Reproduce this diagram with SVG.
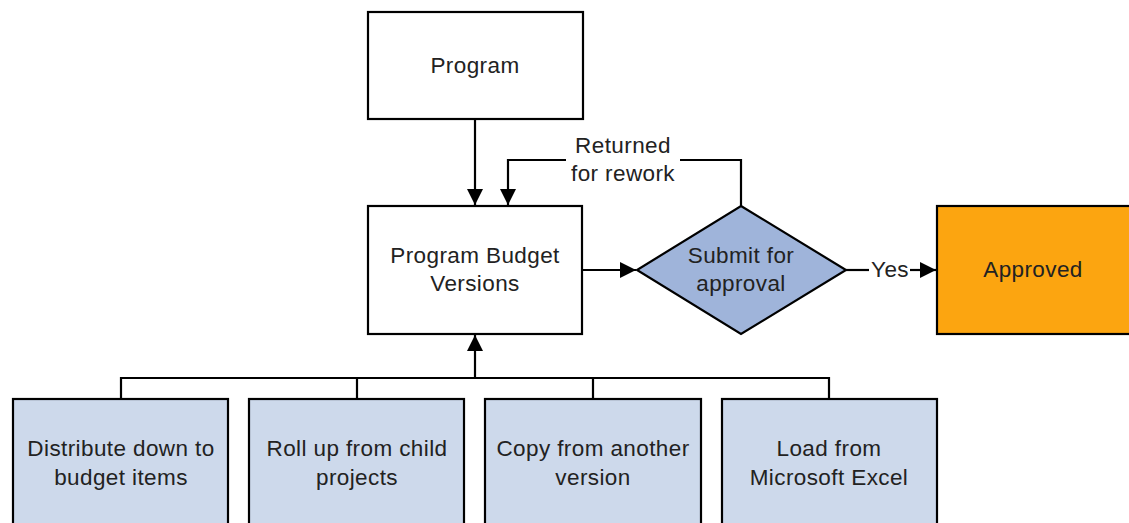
<svg xmlns="http://www.w3.org/2000/svg" width="1129" height="523" viewBox="0 0 1129 523">
<defs>
<style>
.box{stroke:#000;stroke-width:2.2}
.w{fill:#fff}
.b{fill:#cdd9eb}
.t{font-family:"Liberation Sans",Arial,sans-serif;font-size:22.5px;letter-spacing:0.4px;fill:#222;text-anchor:middle}
.c{fill:none;stroke:#000;stroke-width:2.2}
</style>
<marker id="ah2" viewBox="0 0 10 10" refX="10" refY="5" markerWidth="18" markerHeight="16" markerUnits="userSpaceOnUse" orient="auto">
<path d="M0,0 L10,5 L0,10 z" fill="#000"/>
</marker>
</defs>
<rect width="1129" height="523" fill="#fff"/>
<g id="connectors">
<path class="c" d="M475,119 V205" marker-end="url(#ah2)"/>
<path class="c" d="M741,206 V160 H680 M566,160 H508 V205" marker-end="url(#ah2)"/>
<path class="c" d="M582,270 H636" marker-end="url(#ah2)"/>
<path class="c" d="M846,270 H869"/>
<path class="c" d="M910,270 H936" marker-end="url(#ah2)"/>
<path class="c" d="M121,399 V378 H829 V399 M357,378 V399 M593,378 V399"/>
<path class="c" d="M475,378 V335" stroke-width="3.2" marker-end="url(#ah2)"/>
<text class="t" x="623" y="153">Returned</text>
<text class="t" x="623" y="181">for rework</text>
<text class="t" x="890" y="277">Yes</text>
</g>
<g id="program">
<rect class="box w" x="368" y="12" width="215" height="107"/>
<text class="t" x="475" y="73">Program</text>
</g>
<g id="versions">
<rect class="box w" x="368" y="206" width="214" height="128"/>
<text class="t" x="475" y="263">Program Budget</text>
<text class="t" x="475" y="291">Versions</text>
</g>
<g id="submit">
<path class="box" d="M741,206 L846,270 L741,334 L637,270 Z" fill="#9fb4da"/>
<text class="t" x="741" y="263">Submit for</text>
<text class="t" x="741" y="291">approval</text>
</g>
<g id="approved">
<rect class="box" x="937" y="206" width="200" height="128" fill="#fca510"/>
<text class="t" x="1033" y="277">Approved</text>
</g>
<g id="distribute">
<rect class="box b" x="13" y="399" width="215" height="140"/>
<text class="t" x="121" y="456">Distribute down to</text>
<text class="t" x="121" y="485">budget items</text>
</g>
<g id="rollup">
<rect class="box b" x="249" y="399" width="215" height="140"/>
<text class="t" x="357" y="456">Roll up from child</text>
<text class="t" x="357" y="485">projects</text>
</g>
<g id="copy">
<rect class="box b" x="485" y="399" width="216" height="140"/>
<text class="t" x="593" y="456">Copy from another</text>
<text class="t" x="593" y="485">version</text>
</g>
<g id="load">
<rect class="box b" x="722" y="399" width="215" height="140"/>
<text class="t" x="829" y="456">Load from</text>
<text class="t" x="829" y="485">Microsoft Excel</text>
</g>
</svg>
